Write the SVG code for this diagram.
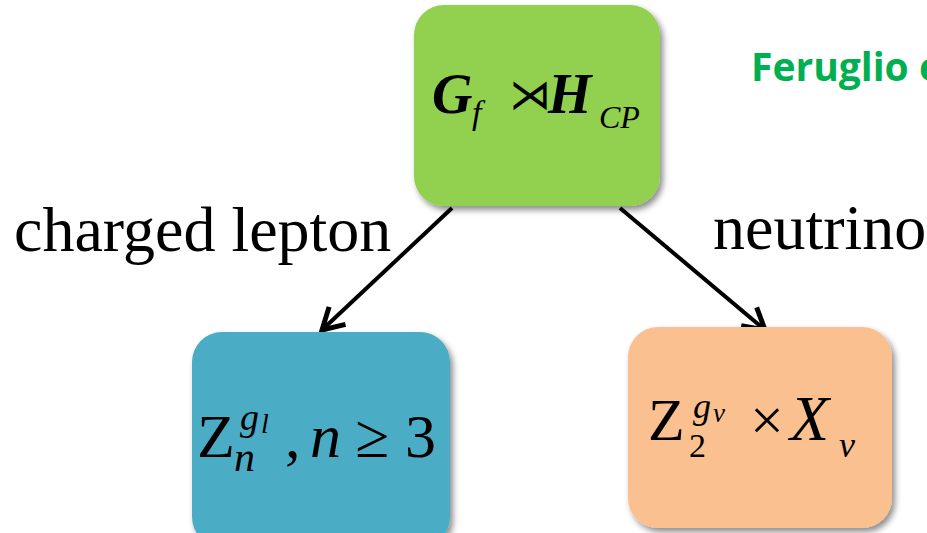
<svg xmlns="http://www.w3.org/2000/svg" width="927" height="533" viewBox="0 0 927 533">
  <defs>
    <filter id="sh" x="-10%" y="-10%" width="125%" height="125%">
      <feDropShadow dx="3" dy="4" stdDeviation="3" flood-color="#000" flood-opacity="0.45"/>
    </filter>
    <marker id="ah" markerUnits="userSpaceOnUse" viewBox="-24 -14 26 28" refX="0" refY="0" markerWidth="26" markerHeight="28" orient="auto" overflow="visible">
      <path d="M-21,-12 L0,0 L-21,12" fill="none" stroke="#000" stroke-width="5" stroke-linejoin="miter"/>
    </marker>
  </defs>
  <style>
    .tm { font-family: "Liberation Serif", "Times New Roman", serif; fill: #000; }
    .it { font-style: italic; }
    .bi { font-style: italic; font-weight: bold; }
    .lbl { font-family: "Liberation Serif", "Times New Roman", serif; font-size: 64px; fill: #000; }
    .edge { stroke: #000; stroke-width: 4; fill: none; marker-end: url(#ah); }
  </style>
  <rect width="927" height="533" fill="#fff"/>

  <g id="connectors">
    <line class="edge" x1="452" y1="208" x2="322" y2="330"/>
    <line class="edge" x1="620" y1="208" x2="765" y2="330"/>
  </g>

  <g id="label-charged">
    <text class="lbl" x="14" y="251">charged lepton</text>
  </g>
  <g id="label-neutrino">
    <text class="lbl" x="713" y="249">neutrino</text>
  </g>

  <g id="ref">
    <text x="751" y="81" font-family="'Open Sans', 'Liberation Sans', sans-serif" font-weight="bold" font-size="39" fill="#00B050">Feruglio e</text>
  </g>

  <g id="node-top">
    <rect x="414" y="5" width="246" height="201" rx="30" fill="#92D050" filter="url(#sh)"/>
    <text class="tm" font-size="56">
      <tspan class="bi" x="432" y="113">G</tspan>
      <tspan class="it" x="472" y="124" font-size="34">f</tspan>
      <tspan x="509" y="109" font-size="42" font-family="'DejaVu Serif', 'DejaVu Sans', serif">⋊</tspan>
      <tspan class="bi" x="548" y="113">H</tspan>
      <tspan class="it" x="599" y="128" font-size="32">CP</tspan>
    </text>
  </g>

  <g id="node-left">
    <rect x="192" y="332" width="258" height="215" rx="30" fill="#4BACC6" filter="url(#sh)"/>
    <text class="tm" font-size="62">
      <tspan x="197" y="457">Z</tspan>
      <tspan class="it" x="240" y="430" font-size="38">g</tspan>
      <tspan class="it" x="261" y="433" font-size="28">l</tspan>
      <tspan class="it" x="234" y="471" font-size="42">n</tspan>
      <tspan x="285" y="457">,</tspan>
      <tspan class="it" x="310" y="457">n</tspan>
      <tspan x="355" y="457">≥</tspan>
      <tspan x="405" y="457">3</tspan>
    </text>
  </g>

  <g id="node-right">
    <rect x="628" y="327" width="264" height="201" rx="30" fill="#FAC090" filter="url(#sh)"/>
    <text class="tm" font-size="60">
      <tspan x="648" y="440">Z</tspan>
      <tspan class="it" x="693" y="418" font-size="36">g</tspan>
      <tspan class="it" x="713" y="422" font-size="27">ν</tspan>
      <tspan x="689" y="457" font-size="34">2</tspan>
      <tspan x="750" y="440">×</tspan>
      <tspan class="it" x="790" y="440" font-size="64">X</tspan>
      <tspan class="it" x="839" y="457" font-size="36">ν</tspan>
    </text>
  </g>
</svg>
